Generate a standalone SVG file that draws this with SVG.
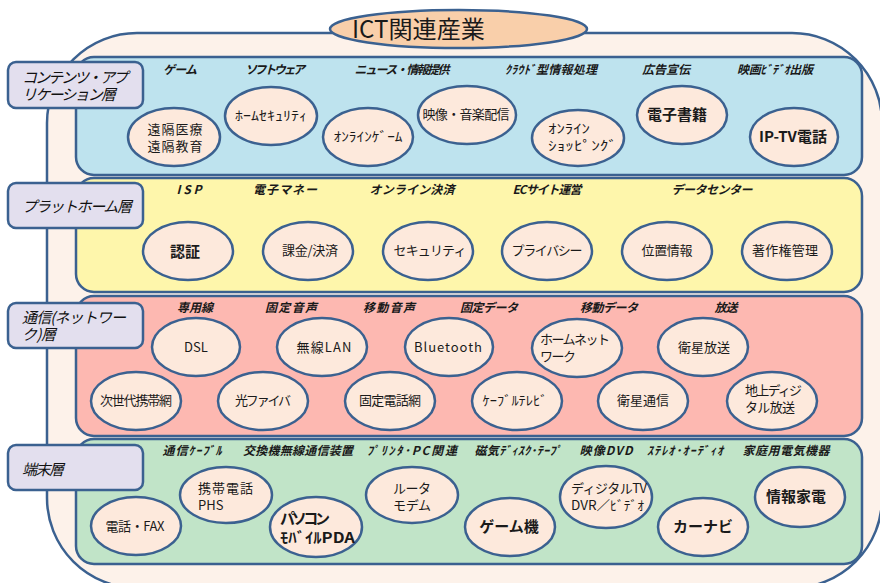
<svg xmlns="http://www.w3.org/2000/svg" width="880" height="583" viewBox="0 0 880 583">
<style>
.ell{fill:#fde9dc;stroke:#3b6190;stroke-width:2.5}
.pan{stroke:#3b6190;stroke-width:2.5}
.lb{fill:#e3dfee;stroke:#3b6190;stroke-width:2.5}
text{font-family:"Noto Sans CJK JP","Noto Sans",sans-serif;fill:#1a1a1a}
.t{font-size:13px;text-anchor:middle}
.tl{font-size:13px;text-anchor:start}
.b{font-size:15px;font-weight:bold;text-anchor:middle}
.cat{font-size:12px;font-style:italic;font-weight:bold;text-anchor:middle}
.lbl{font-size:15px;font-style:italic;text-anchor:start;fill:#111}
</style>
<rect width="880" height="583" fill="#ffffff"/>
<g id="outer">
<rect x="47" y="33" width="835" height="555" rx="90" ry="90" fill="#fdf2ea" stroke="#3b6190" stroke-width="2.5"/>
</g>
<g id="title">
<rect x="330" y="10" width="257" height="38" rx="128" ry="19" fill="#f9cfaa" stroke="#3b6190" stroke-width="2.5"/>
<text x="352" y="38" font-size="24" textLength="133" lengthAdjust="spacingAndGlyphs">ICT関連産業</text>
</g>

<g id="layer-contents">
<rect class="pan" x="76" y="57" width="786" height="118" rx="18" fill="#bee3ee"/>
<text class="cat" x="180" y="74" textLength="34">ゲーム</text>
<text class="cat" x="275" y="74" textLength="60">ソフトウェア</text>
<text class="cat" x="402" y="74" textLength="95">ニュース・情報提供</text>
<text class="cat" x="551" y="74" textLength="92">ｸﾗｳﾄﾞ型情報処理</text>
<text class="cat" x="666" y="74" textLength="48">広告宣伝</text>
<text class="cat" x="775" y="74" textLength="76">映画ﾋﾞﾃﾞｵ出版</text>
</g>
<g id="layer-platform">
<rect class="pan" x="76" y="178" width="786" height="114" rx="18" fill="#fef6ab"/>
<text class="cat" x="189" y="194" textLength="25">ISP</text>
<text class="cat" x="285" y="194" textLength="64">電子マネー</text>
<text class="cat" x="412" y="194" textLength="85">オンライン決済</text>
<text class="cat" x="547" y="194" textLength="69">ECサイト運営</text>
<text class="cat" x="712" y="194" textLength="81">データセンター</text>
</g>
<g id="layer-network">
<rect class="pan" x="76" y="296" width="786" height="140" rx="18" fill="#fdb8b1"/>
<text class="cat" x="195" y="312" textLength="36">専用線</text>
<text class="cat" x="291" y="312" textLength="52">固定音声</text>
<text class="cat" x="389" y="312" textLength="52">移動音声</text>
<text class="cat" x="489" y="312" textLength="58">固定データ</text>
<text class="cat" x="609" y="312" textLength="58">移動データ</text>
<text class="cat" x="726" y="312" textLength="23">放送</text>
</g>
<g id="layer-terminal">
<rect class="pan" x="76" y="439" width="786" height="125" rx="18" fill="#c1e4c8"/>
<text class="cat" x="192" y="455" textLength="59">通信ｹｰﾌﾞﾙ</text>
<text class="cat" x="298" y="455" textLength="110">交換機無線通信装置</text>
<text class="cat" x="412" y="455" textLength="90">ﾌﾟﾘﾝﾀ･PC関連</text>
<text class="cat" x="518" y="455" textLength="87">磁気ﾃﾞｨｽｸ･ﾃｰﾌﾟ</text>
<text class="cat" x="606" y="455" textLength="53">映像DVD</text>
<text class="cat" x="685" y="455" textLength="76">ｽﾃﾚｵ･ｵｰﾃﾞｨｵ</text>
<text class="cat" x="786" y="455" textLength="87">家庭用電気機器</text>
</g>

<g id="label-contents">
<rect class="lb" x="8" y="62" width="135" height="46" rx="8"/>
<text class="lbl" x="22" y="83" textLength="106">コンテンツ・アプ</text>
<text class="lbl" x="22" y="100" textLength="94">リケーション層</text>
</g>
<g id="label-platform">
<rect class="lb" x="8" y="183" width="135" height="45" rx="8"/>
<text class="lbl" x="22" y="212" textLength="110">プラットホーム層</text>
</g>
<g id="label-network">
<rect class="lb" x="8" y="303" width="135" height="45" rx="8"/>
<text class="lbl" x="22" y="323" textLength="104">通信(ネットワー</text>
<text class="lbl" x="22" y="340" textLength="34">ク)層</text>
</g>
<g id="label-terminal">
<rect class="lb" x="8" y="445" width="135" height="45" rx="8"/>
<text class="lbl" x="22" y="475" textLength="42">端末層</text>
</g>

<g id="n-enkaku"><ellipse class="ell" cx="174" cy="137" rx="46" ry="29"/>
<text class="t" x="175" y="134" textLength="55">遠隔医療</text><text class="t" x="175" y="151" textLength="55">遠隔教育</text></g>
<g id="n-homesec"><ellipse class="ell" cx="271" cy="116" rx="46" ry="29"/>
<text class="t" x="271" y="120" textLength="72" lengthAdjust="spacingAndGlyphs">ﾎｰﾑｾｷｭﾘﾃｨ</text></g>
<g id="n-onlinegame"><ellipse class="ell" cx="368" cy="137" rx="45" ry="29"/>
<text class="t" x="368" y="141" textLength="69" lengthAdjust="spacingAndGlyphs">ｵﾝﾗｲﾝｹﾞｰﾑ</text></g>
<g id="n-eizo"><ellipse class="ell" cx="467" cy="115" rx="49" ry="29"/>
<text class="t" x="466" y="119" textLength="87">映像・音楽配信</text></g>
<g id="n-shopping"><ellipse class="ell" cx="578" cy="138" rx="46" ry="28"/>
<text class="tl" x="548" y="133" textLength="42" lengthAdjust="spacingAndGlyphs">ｵﾝﾗｲﾝ</text>
<text class="tl" x="548" y="150" textLength="69" lengthAdjust="spacingAndGlyphs">ｼｮｯﾋﾟﾝｸﾞ</text></g>
<g id="n-ebook"><ellipse class="ell" cx="682" cy="115" rx="45" ry="29"/>
<text class="b" x="677" y="120">電子書籍</text></g>
<g id="n-iptv"><ellipse class="ell" cx="794" cy="137" rx="44" ry="29"/>
<text class="b" x="793" y="142">IP-TV電話</text></g>

<g id="n-ninsho"><ellipse class="ell" cx="188" cy="251" rx="45" ry="29"/>
<text class="b" x="185" y="257" font-size="17">認証</text></g>
<g id="n-kakin"><ellipse class="ell" cx="308" cy="251" rx="45" ry="29"/>
<text class="t" x="310" y="255" textLength="56">課金/決済</text></g>
<g id="n-security"><ellipse class="ell" cx="428" cy="251" rx="45" ry="29"/>
<text class="t" x="430" y="255" textLength="73">セキュリティ</text></g>
<g id="n-privacy"><ellipse class="ell" cx="547" cy="251" rx="45" ry="29"/>
<text class="t" x="547" y="255" textLength="71">プライバシー</text></g>
<g id="n-ichi"><ellipse class="ell" cx="667" cy="251" rx="45" ry="29"/>
<text class="t" x="667" y="255" textLength="51">位置情報</text></g>
<g id="n-chosaku"><ellipse class="ell" cx="787" cy="251" rx="45" ry="29"/>
<text class="t" x="785" y="255" textLength="66">著作権管理</text></g>

<g id="n-dsl"><ellipse class="ell" cx="196" cy="347" rx="44" ry="29"/>
<text class="t" x="196" y="352">DSL</text></g>
<g id="n-wlan"><ellipse class="ell" cx="322" cy="347" rx="45" ry="29"/>
<text class="t" x="324" y="352" textLength="55">無線LAN</text></g>
<g id="n-bt"><ellipse class="ell" cx="449" cy="347" rx="44" ry="29"/>
<text class="t" x="448" y="352" textLength="68">Bluetooth</text></g>
<g id="n-homenet"><ellipse class="ell" cx="577" cy="348" rx="45" ry="29"/>
<text class="tl" x="540" y="344" textLength="70">ホームネット</text>
<text class="tl" x="540" y="361" textLength="36">ワーク</text></g>
<g id="n-eiseihoso"><ellipse class="ell" cx="703" cy="347" rx="45" ry="29"/>
<text class="t" x="704" y="352" textLength="52">衛星放送</text></g>
<g id="n-jisedai"><ellipse class="ell" cx="136" cy="401" rx="45" ry="29"/>
<text class="t" x="136" y="405" textLength="72">次世代携帯網</text></g>
<g id="n-hikari"><ellipse class="ell" cx="263" cy="401" rx="45" ry="29"/>
<text class="t" x="263" y="405" textLength="56">光ファイバ</text></g>
<g id="n-koteidenwa"><ellipse class="ell" cx="390" cy="401" rx="45" ry="29"/>
<text class="t" x="390" y="405" textLength="62">固定電話網</text></g>
<g id="n-cabletv"><ellipse class="ell" cx="517" cy="401" rx="45" ry="29"/>
<text class="t" x="515" y="405" textLength="65" lengthAdjust="spacingAndGlyphs">ｹｰﾌﾞﾙﾃﾚﾋﾞ</text></g>
<g id="n-eiseitsushin"><ellipse class="ell" cx="643" cy="401" rx="45" ry="29"/>
<text class="t" x="643" y="405" textLength="52">衛星通信</text></g>
<g id="n-chijo"><ellipse class="ell" cx="772" cy="401" rx="45" ry="29"/>
<text class="tl" x="745" y="395" textLength="57">地上ディジ</text>
<text class="tl" x="745" y="412" textLength="50">タル放送</text></g>

<g id="n-fax"><ellipse class="ell" cx="136" cy="526" rx="45" ry="29"/>
<text class="t" x="135" y="531" textLength="59">電話・FAX</text></g>
<g id="n-keitai"><ellipse class="ell" cx="226" cy="495" rx="46" ry="28"/>
<text class="tl" x="198" y="493" textLength="55">携帯電話</text>
<text class="tl" x="198" y="510">PHS</text></g>
<g id="n-pasokon"><ellipse class="ell" cx="316" cy="527" rx="46" ry="30"/>
<text class="b" x="280" y="524" style="text-anchor:start" textLength="50">パソコン</text>
<text class="b" x="280" y="543" style="text-anchor:start" textLength="75" lengthAdjust="spacingAndGlyphs">ﾓﾊﾞｲﾙPDA</text></g>
<g id="n-router"><ellipse class="ell" cx="412" cy="495" rx="46" ry="28"/>
<text class="t" x="412" y="493" textLength="38">ルータ</text>
<text class="t" x="412" y="510" textLength="38">モデム</text></g>
<g id="n-gameki"><ellipse class="ell" cx="510" cy="527" rx="45" ry="29"/>
<text class="b" x="509" y="532">ゲーム機</text></g>
<g id="n-digitaltv"><ellipse class="ell" cx="606" cy="497" rx="46" ry="31"/>
<text class="tl" x="571" y="493" textLength="76">ディジタルTV</text>
<text class="tl" x="571" y="510" textLength="73" lengthAdjust="spacingAndGlyphs">DVR／ﾋﾞﾃﾞｵ</text></g>
<g id="n-carnavi"><ellipse class="ell" cx="703" cy="527" rx="45" ry="29"/>
<text class="b" x="703" y="532">カーナビ</text></g>
<g id="n-johokaden"><ellipse class="ell" cx="800" cy="497" rx="45" ry="30"/>
<text class="b" x="796" y="502">情報家電</text></g>
</svg>
